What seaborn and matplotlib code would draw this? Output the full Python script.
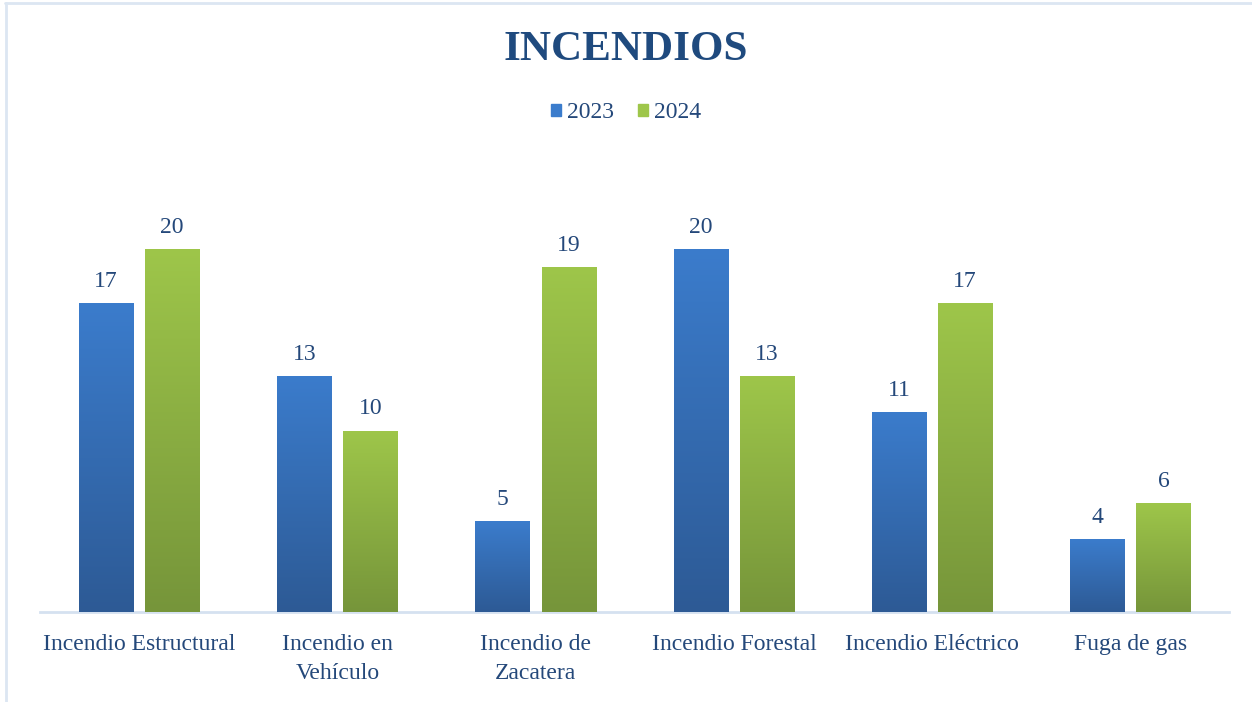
import pandas as pd
import seaborn as sns
import matplotlib.pyplot as plt
import numpy as np
from matplotlib.colors import LinearSegmentedColormap
from matplotlib.lines import Line2D

# Data
categorias = ['Incendio Estructural', 'Incendio en\nVehículo', 'Incendio de\nZacatera',
              'Incendio Forestal', 'Incendio Eléctrico', 'Fuga de gas']
valores_2023 = [17, 13, 5, 20, 11, 4]
valores_2024 = [20, 10, 19, 13, 17, 6]
anios = ['2023', '2024']

df = pd.DataFrame({
    'categoria': categorias * 2,
    'anio': [anios[0]] * 6 + [anios[1]] * 6,
    'total': valores_2023 + valores_2024,
})

texto = '#24487A'
colores = {'2023': ('#3B7CCC', '#2D5A95'), '2024': ('#9EC64A', '#76953A')}

sns.set_theme(style='white')
plt.rcParams['font.family'] = ['Liberation Serif', 'DejaVu Serif']

fig = plt.figure(figsize=(12.52, 7.02), dpi=100)
ax = fig.add_axes([0.032, 0.128, 0.95, 0.621])

sns.barplot(data=df, x='categoria', y='total', hue='anio', order=categorias,
            palette={k: v[0] for k, v in colores.items()},
            width=0.667, gap=0.18, legend=False, ax=ax, zorder=2)

# gradient fill, top -> bottom, clipped to each bar
for cont, anio in zip(ax.containers, anios):
    cmap = LinearSegmentedColormap.from_list(anio, [colores[anio][1], colores[anio][0]])
    grad = np.linspace(0, 1, 256).reshape(-1, 1)
    for bar in cont:
        x0, y0 = bar.get_x(), bar.get_y()
        w, h = bar.get_width(), bar.get_height()
        im = ax.imshow(grad, cmap=cmap, aspect='auto', origin='lower',
                       extent=[x0, x0 + w, y0, y0 + h], zorder=3)
        im.set_clip_path(bar)
    ax.bar_label(cont, padding=8, fontsize=17, color=texto)

ax.set_xlim(-0.5, len(categorias) - 0.5)
ax.set_ylim(0, 24)

sns.despine(ax=ax, left=True)
ax.spines['bottom'].set_color('#D5E1F0')
ax.spines['bottom'].set_linewidth(2)
ax.set_yticks([])
ax.set_xlabel('')
ax.set_ylabel('')
ax.tick_params(axis='x', length=0, pad=16, labelsize=17, labelcolor=texto)
for lbl in ax.get_xticklabels():
    lbl.set_linespacing(1.5)
    lbl.set_va('top')

fig.text(0.5, 1 - 50 / 702, 'INCENDIOS', ha='center', va='center',
         fontsize=31, fontweight='bold', color='#1F4A7E')

handles = [plt.Rectangle((0, 0), 1, 1, color=colores[a][0]) for a in anios]
fig.legend(handles, anios, loc='center', bbox_to_anchor=(0.5, 1 - 113 / 702),
           ncol=2, frameon=False, fontsize=17, labelcolor=texto,
           handlelength=0.45, handleheight=0.45, handletextpad=0.25, columnspacing=1.0)

# outer frame (top and left only)
fig.add_artist(Line2D([5 / 1252, 1], [1 - 3 / 702, 1 - 3 / 702], color='#DCE6F2', lw=2,
                      transform=fig.transFigure))
fig.add_artist(Line2D([5.5 / 1252, 5.5 / 1252], [0, 1 - 3 / 702], color='#DCE6F2', lw=2,
                      transform=fig.transFigure))

fig.savefig('out.png', dpi=100)
